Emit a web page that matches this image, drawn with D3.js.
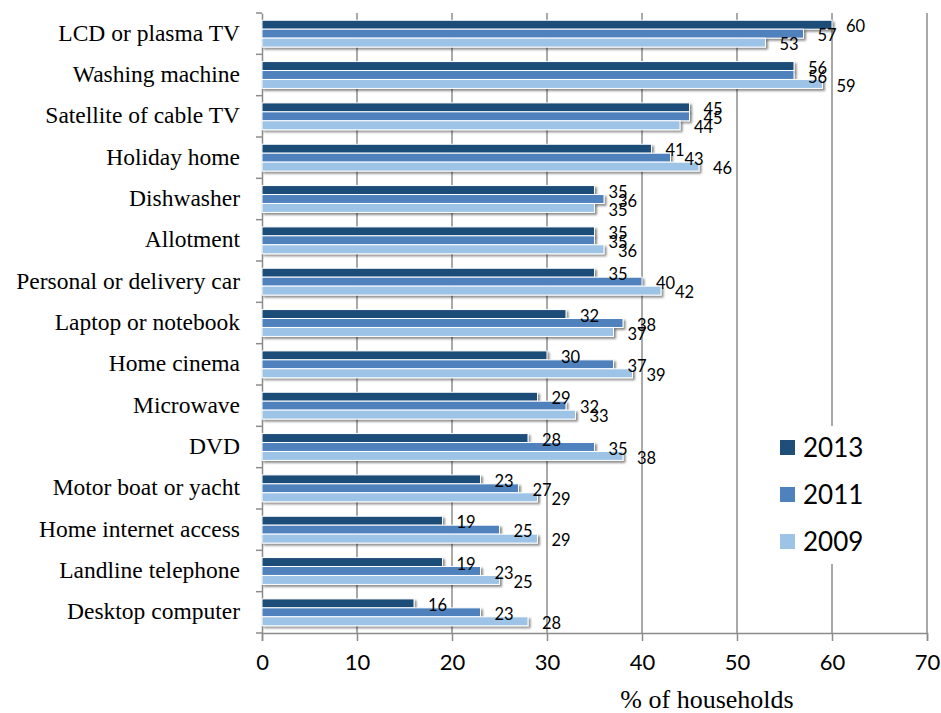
<!DOCTYPE html>
<html>
<head>
<meta charset="utf-8">
<script src="https://cdn.jsdelivr.net/npm/d3@7"></script>
<style>
  html, body { margin: 0; padding: 0; background: #fff; }
  svg { display: block; }
</style>
</head>
<body>
<svg id="chart" width="941" height="713"></svg>
<script>
// Household ownership of durable goods, % of households
const categories = [
  "LCD or plasma TV", "Washing machine", "Satellite of cable TV", "Holiday home",
  "Dishwasher", "Allotment", "Personal or delivery car", "Laptop or notebook",
  "Home cinema", "Microwave", "DVD", "Motor boat or yacht",
  "Home internet access", "Landline telephone ", "Desktop computer"
];
const seriesNames = ["2013", "2011", "2009"];
const values2013 = [60, 56, 45, 41, 35, 35, 35, 32, 30, 29, 28, 23, 19, 19, 16];
const values2011 = [57, 56, 45, 43, 36, 35, 40, 38, 37, 32, 35, 27, 25, 23, 23];
const values2009 = [53, 59, 44, 46, 35, 36, 42, 37, 39, 33, 38, 29, 29, 25, 28];
const xTicks = [0, 10, 20, 30, 40, 50, 60, 70];
const axisTitle = "% of households";

const seriesValues = [values2013, values2011, values2009];
const colors = ["#1f4e79", "#4f81bd", "#9dc3e6"];

const svg = d3.select("#chart");
const plotLeft = 262, plotRight = 927, plotTop = 13, plotBottom = 633;

const x = d3.scaleLinear().domain([0, 70]).range([plotLeft, plotRight]);
const y0 = d3.scaleBand().domain(categories).range([plotTop, plotBottom])
  .paddingInner(0.35).paddingOuter(0.175);
const y1 = d3.scaleBand().domain(seriesNames).range([0, y0.bandwidth()]);

const defs = svg.append("defs");
const shadow = defs.append("filter").attr("id", "barShadow")
  .attr("x", "-5%").attr("y", "-50%").attr("width", "115%").attr("height", "250%");
shadow.append("feDropShadow").attr("dx", 2).attr("dy", 2)
  .attr("stdDeviation", 1.3).attr("flood-color", "#000").attr("flood-opacity", 0.45);

// vertical gridlines
svg.append("g").selectAll("line").data(xTicks.slice(1)).join("line")
  .attr("x1", d => x(d)).attr("x2", d => x(d))
  .attr("y1", plotTop).attr("y2", plotBottom)
  .attr("stroke", "#8c8c8c").attr("stroke-width", 1.5);

// bottom axis
const xAxis = svg.append("g").attr("transform", `translate(0,${plotBottom})`)
  .call(d3.axisBottom(x).tickValues(xTicks).tickSize(8).tickPadding(13));
xAxis.select(".domain").attr("stroke", "#8c8c8c").attr("stroke-width", 1.5);
xAxis.selectAll(".tick line").attr("stroke", "#8c8c8c").attr("stroke-width", 1.5);
xAxis.selectAll(".tick text")
  .attr("font-family", "Lato, 'Open Sans', sans-serif")
  .attr("font-size", 22).attr("fill", "#000");

// left axis with category labels
const yAxis = svg.append("g").attr("transform", `translate(${plotLeft},0)`)
  .call(d3.axisLeft(y0).tickSize(0).tickPadding(22));
yAxis.select(".domain").attr("stroke", "#8c8c8c").attr("stroke-width", 1.5);
yAxis.selectAll(".tick text")
  .attr("font-family", "'Liberation Serif', 'Times New Roman', serif")
  .attr("font-size", 23.5).attr("fill", "#000").attr("dy", "0.3em");
// category separators on the left axis
const step = y0.step();
svg.append("g").selectAll("line").data(d3.range(categories.length + 1)).join("line")
  .attr("x1", plotLeft - 6).attr("x2", plotLeft)
  .attr("y1", i => plotTop + i * step).attr("y2", i => plotTop + i * step)
  .attr("stroke", "#8c8c8c").attr("stroke-width", 1.5);

// bars
const groups = svg.append("g").selectAll("g").data(categories).join("g")
  .attr("transform", d => `translate(0,${y0(d)})`);

groups.selectAll("rect")
  .data((c, i) => seriesNames.map((s, k) => ({ s, k, v: seriesValues[k][i] })))
  .join("rect")
  .attr("x", x(0))
  .attr("y", d => y1(d.s))
  .attr("width", d => x(d.v) - x(0))
  .attr("height", y1.bandwidth())
  .attr("fill", d => colors[d.k])
  .attr("stroke", "#fff").attr("stroke-width", 1)
  .attr("filter", "url(#barShadow)");

groups.selectAll("text")
  .data((c, i) => seriesNames.map((s, k) => ({ s, k, v: seriesValues[k][i] })))
  .join("text")
  .attr("x", d => x(d.v) + 14)
  .attr("y", d => y1(d.s) + y1.bandwidth() / 2 + 2)
  .attr("dy", "0.35em")
  .attr("font-family", "Lato, 'Open Sans', sans-serif")
  .attr("font-size", 16.5).attr("fill", "#000")
  .text(d => d.v);

// legend
const legend = svg.append("g");
legend.append("rect").attr("x", 768).attr("y", 426).attr("width", 128).attr("height", 138)
  .attr("fill", "#fff");
const legendRows = legend.selectAll("g").data(seriesNames).join("g")
  .attr("transform", (d, i) => `translate(780,${448 + i * 47})`);
legendRows.append("rect").attr("x", 0).attr("y", -8).attr("width", 15).attr("height", 15)
  .attr("fill", (d, i) => colors[i]);
legendRows.append("text").attr("x", 23).attr("y", 0).attr("dy", "0.35em")
  .attr("font-family", "Lato, 'Open Sans', sans-serif")
  .attr("font-size", 26).attr("fill", "#000")
  .text(d => d);

// axis title
svg.append("text").attr("x", 707).attr("y", 708)
  .attr("text-anchor", "middle")
  .attr("font-family", "'Liberation Serif', 'Times New Roman', serif")
  .attr("font-size", 26).attr("fill", "#000")
  .text(axisTitle);
</script>
</body>
</html>
